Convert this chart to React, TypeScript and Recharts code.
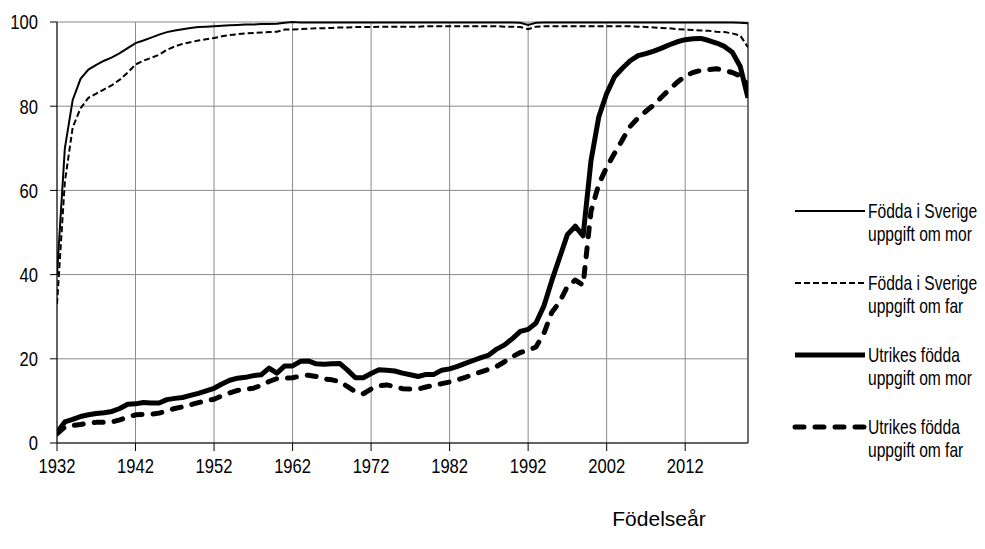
import React from "react";
import {
  LineChart,
  Line,
  XAxis,
  YAxis,
  CartesianGrid,
  ReferenceLine,
  Customized,
} from "recharts";

const years = [
  1932, 1933, 1934, 1935, 1936, 1937, 1938, 1939, 1940, 1941,
  1942, 1943, 1944, 1945, 1946, 1947, 1948, 1949, 1950, 1951,
  1952, 1953, 1954, 1955, 1956, 1957, 1958, 1959, 1960, 1961,
  1962, 1963, 1964, 1965, 1966, 1967, 1968, 1969, 1970, 1971,
  1972, 1973, 1974, 1975, 1976, 1977, 1978, 1979, 1980, 1981,
  1982, 1983, 1984, 1985, 1986, 1987, 1988, 1989, 1990, 1991,
  1992, 1993, 1994, 1995, 1996, 1997, 1998, 1999, 2000, 2001,
  2002, 2003, 2004, 2005, 2006, 2007, 2008, 2009, 2010, 2011,
  2012, 2013, 2014, 2015, 2016, 2017, 2018, 2019, 2020,
];

const sverigeMor = [
  40, 70, 81.5, 86.5, 88.7, 89.8, 90.8, 91.6, 92.6, 93.8,
  95, 95.6, 96.3, 97, 97.6, 98, 98.3, 98.6, 98.8, 98.9,
  99, 99.1, 99.2, 99.3, 99.4, 99.4, 99.5, 99.5, 99.6, 99.8,
  100, 99.9, 99.9, 99.9, 99.9, 99.9, 99.9, 99.9, 99.9, 99.9,
  99.9, 99.9, 99.9, 99.9, 99.9, 99.9, 99.9, 99.9, 99.9, 99.9,
  99.9, 99.9, 99.9, 99.9, 99.9, 99.9, 99.9, 99.9, 99.9, 99.8,
  99.3, 99.8, 99.9, 99.9, 99.9, 99.9, 99.9, 99.9, 99.9, 99.9,
  99.9, 99.9, 99.9, 99.9, 99.9, 99.9, 99.9, 99.9, 99.9, 99.9,
  99.9, 99.9, 99.9, 99.9, 99.9, 99.9, 99.9, 99.8, 99.7,
];

const sverigeFar = [
  33, 62, 75, 79.5, 82, 83, 84, 85, 86.3, 88,
  89.9, 90.8, 91.5, 92.2, 93.4, 94.2, 94.8, 95.2, 95.6, 95.9,
  96.2, 96.6, 96.9, 97.1, 97.3, 97.4, 97.5, 97.6, 97.7, 98.2,
  98.2, 98.3, 98.4, 98.5, 98.5, 98.6, 98.7, 98.7, 98.8, 98.8,
  98.8, 98.9, 98.9, 98.9, 98.9, 98.9, 98.9, 99, 99, 99,
  99, 99, 99, 99, 99, 99, 99, 98.9, 98.9, 98.8,
  98.3, 98.9, 99, 99, 99, 99, 99, 99, 99, 99,
  99, 99, 99, 99, 98.9, 98.8, 98.7, 98.6, 98.5, 98.3,
  98.2, 98.1, 98, 97.9, 97.7, 97.6, 97.3, 96.8, 94,
];

const utrikesMor = [
  2.5, 5, 5.6, 6.3, 6.7, 7.0, 7.2, 7.5, 8.2, 9.2,
  9.3, 9.6, 9.5, 9.5, 10.3, 10.6, 10.8, 11.3, 11.8, 12.4,
  13.0, 14.0, 14.9, 15.4, 15.6, 16.0, 16.2, 17.8, 16.6, 18.3,
  18.3, 19.4, 19.5, 18.8, 18.7, 18.8, 18.9, 17.3, 15.5, 15.5,
  16.5, 17.4, 17.3, 17.1, 16.6, 16.2, 15.8, 16.3, 16.3, 17.3,
  17.6, 18.2, 18.9, 19.6, 20.3, 20.9, 22.3, 23.3, 24.8, 26.5,
  27.0, 28.5, 32.5, 38.5, 44, 49.5, 51.5, 49.2, 67, 77.5,
  83, 87, 89, 90.8, 92, 92.5, 93.1, 93.8, 94.6, 95.3,
  95.8, 96.0, 96.1, 95.6, 95.0, 94.2, 92.8, 89.5, 82,
];

const utrikesFar = [
  2.2, 3.8, 4.2, 4.4, 4.7, 4.9, 4.9, 5.0, 5.5, 6.1,
  6.7, 6.8, 6.8, 7.1, 7.6, 8.2, 8.6, 9.1, 9.6, 10.0,
  10.4, 11.2, 11.9, 12.5, 12.8, 13.0, 13.7, 14.6, 15.3, 15.4,
  15.5, 15.9, 16.1, 15.8, 15.2, 15.0, 14.6, 13.4, 12.2, 11.7,
  12.8, 13.6, 13.8, 13.4, 12.9, 12.8, 12.8, 13.3, 13.7, 14.1,
  14.5, 15.0, 15.6, 16.3, 16.9, 17.5, 18.2, 19.3, 20.5, 21.5,
  22.0, 22.8, 26.0, 31.0, 33.5, 37.2, 38.7, 37.5, 55, 61.5,
  65.5, 68.8, 72, 75.2, 77.2, 78.8, 80.3, 82.2, 84.0, 85.7,
  87.2, 88.0, 88.5, 88.7, 88.9, 88.5, 88.0, 87.2, 85,
];

const xTicks = [1932, 1942, 1952, 1962, 1972, 1982, 1992, 2002, 2012];
const yTicks = [0, 20, 40, 60, 80, 100];

const seriesNames = [
  ["Födda i Sverige", "uppgift om mor"],
  ["Födda i Sverige", "uppgift om far"],
  ["Utrikes födda", "uppgift om mor"],
  ["Utrikes födda", "uppgift om far"],
];
const axisTitle = "Födelseår";

const data = years.map((y, i) => ({
  year: y,
  sm: sverigeMor[i],
  sf: sverigeFar[i],
  um: utrikesMor[i],
  uf: utrikesFar[i],
}));

const FONT = "'Liberation Sans', Arial, sans-serif";
const SX = 0.79;

const XTick = (props: any) => {
  const { x, y, payload } = props;
  return (
    <text
      transform={`translate(${x},${y}) scale(${SX},1)`}
      textAnchor="middle"
      dy="0.71em"
      fontSize={21}
      fontFamily={FONT}
      fill="#000"
    >
      {payload.value}
    </text>
  );
};

const YTick = (props: any) => {
  const { x, y, payload } = props;
  return (
    <text
      transform={`translate(${x},${y}) scale(${SX},1)`}
      textAnchor="end"
      dy="0.355em"
      fontSize={21}
      fontFamily={FONT}
      fill="#000"
    >
      {payload.value}
    </text>
  );
};

const lineStyles = [
  { w: 2, dash: undefined as string | undefined, cap: "butt" },
  { w: 2, dash: "6 3", cap: "butt" },
  { w: 5, dash: undefined as string | undefined, cap: "butt" },
  { w: 5, dash: "9 11", cap: "round" },
];

const LegendBlock = () => (
  <g>
    {seriesNames.map((names, i) => {
      const cy = 203 + 72 * i;
      const st = lineStyles[i];
      return (
        <g key={i}>
          <line
            x1={787}
            x2={857}
            y1={cy}
            y2={cy}
            stroke="#000"
            strokeWidth={st.w}
            strokeDasharray={st.dash}
            strokeLinecap={st.cap as any}
          />
          <text
            transform={`translate(860,${cy}) scale(0.78,1)`}
            dy="0.355em"
            fontSize={20}
            fontFamily={FONT}
            fill="#000"
          >
            {names[0]}
          </text>
          <text
            transform={`translate(860,${cy + 23}) scale(0.78,1)`}
            dy="0.355em"
            fontSize={20}
            fontFamily={FONT}
            fill="#000"
          >
            {names[1]}
          </text>
        </g>
      );
    })}
  </g>
);

const Title = () => (
  <text
    x={651}
    y={518}
    textAnchor="middle"
    fontSize={21}
    fontFamily={FONT}
    fill="#000"
  >
    {axisTitle}
  </text>
);

export default function App() {
  return (
    <div style={{ width: 977, height: 541, position: "relative" }}>
      <LineChart
        width={977}
        height={541}
        data={data}
        margin={{ top: 14, right: 237, left: 9, bottom: 56 }}
      >
        <CartesianGrid stroke="#8a8a8a" strokeWidth={1} />
        <ReferenceLine x={2020} stroke="#555" strokeWidth={1.5} />
        <XAxis
          dataKey="year"
          type="number"
          domain={[1932, 2020]}
          ticks={xTicks}
          interval={0}
          height={50}
          tickSize={8}
          tickMargin={7}
          stroke="#000"
          tick={<XTick />}
          allowDataOverflow
        />
        <YAxis
          type="number"
          domain={[0, 100]}
          ticks={yTicks}
          interval={0}
          width={40}
          tickSize={7}
          tickMargin={12}
          stroke="#000"
          tick={<YTick />}
        />
        <Line
          dataKey="sm"
          name="Födda i Sverige uppgift om mor"
          stroke="#000"
          strokeWidth={2}
          dot={false}
          activeDot={false}
          isAnimationActive={false}
        />
        <Line
          dataKey="sf"
          name="Födda i Sverige uppgift om far"
          stroke="#000"
          strokeWidth={2}
          strokeDasharray="6 3"
          dot={false}
          activeDot={false}
          isAnimationActive={false}
        />
        <Line
          dataKey="um"
          name="Utrikes födda uppgift om mor"
          stroke="#000"
          strokeWidth={5}
          strokeLinejoin="round"
          dot={false}
          activeDot={false}
          isAnimationActive={false}
        />
        <Line
          dataKey="uf"
          name="Utrikes födda uppgift om far"
          stroke="#000"
          strokeWidth={5}
          strokeDasharray="9 11"
          strokeLinecap="round"
          strokeLinejoin="round"
          dot={false}
          activeDot={false}
          isAnimationActive={false}
        />
        <Customized component={<LegendBlock />} />
        <Customized component={<Title />} />
      </LineChart>
    </div>
  );
}
